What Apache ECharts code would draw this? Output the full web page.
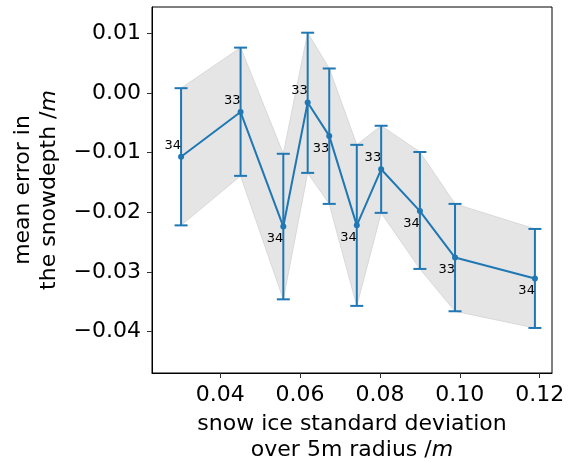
<!DOCTYPE html>
<html>
<head>
<meta charset="utf-8">
<script src="https://cdn.jsdelivr.net/npm/echarts@6/dist/echarts.min.js"></script>
<style>html,body{margin:0;padding:0;background:#fff}#c{width:574px;height:462px}</style>
</head>
<body>
<div id="c"></div>
<script>
// ---- data ----
const stdDev   = [0.0302, 0.0451, 0.0558, 0.0619, 0.0673, 0.0742, 0.0803, 0.0900, 0.0988, 0.1188];
const meanErr  = [-0.0107, -0.0032, -0.0224, -0.0016, -0.0072, -0.0222, -0.0128, -0.0198, -0.0276, -0.0311];
const upperErr = [0.0008, 0.0076, -0.0102, 0.0101, 0.0041, -0.0087, -0.0055, -0.0099, -0.0186, -0.0228];
const lowerErr = [-0.0222, -0.0139, -0.0346, -0.0134, -0.0186, -0.0357, -0.0201, -0.0295, -0.0366, -0.0394];
const counts   = [34, 33, 34, 33, 33, 34, 33, 34, 33, 34];
const xTicks   = [0.04, 0.06, 0.08, 0.10, 0.12];
const yTicks   = [-0.04, -0.03, -0.02, -0.01, 0.00, 0.01];

// label placement (style)
const labelPos = ['top', 'top', 'bottom', 'top', 'bottom', 'bottom', 'top', 'bottom', 'bottom', 'bottom'];

const BLUE = '#1f77b4';
const FONT = 'DejaVu Sans';
const fmt = v => (v < -1e-9 ? '\u2212' : '') + Math.abs(v).toFixed(2);

const chart = echarts.init(document.getElementById('c'), null, {renderer: 'canvas'});
const errData = stdDev.map((x, i) => [x, lowerErr[i], upperErr[i]]);

chart.setOption({
  animation: false,
  backgroundColor: '#fff',
  grid: {left: 152, top: 7, right: 22, bottom: 89, show: true, borderColor: '#000', borderWidth: 1,
         backgroundColor: 'transparent', containLabel: false, outerBoundsMode: 'none'},
  xAxis: {
    type: 'value', min: 0.02292, max: 0.12308,
    axisLine: {show: true, onZero: false, lineStyle: {color: '#000', width: 1}},
    axisTick: {show: true, length: 5, lineStyle: {color: '#333', width: 1}, customValues: xTicks},
    axisLabel: {customValues: xTicks, formatter: fmt, fontSize: 22, fontFamily: FONT, color: '#000', margin: 11},
    splitLine: {show: false},
    name: '{n|snow ice standard deviation}\n{n|over 5m radius /}{i|m}',
    nameLocation: 'middle', nameGap: 37,
    nameTextStyle: {
      fontSize: 22, fontFamily: FONT, color: '#000', lineHeight: 26,
      rich: {n: {fontSize: 22, fontFamily: FONT, color: '#000', lineHeight: 26},
             i: {fontSize: 22, fontFamily: FONT, fontStyle: 'italic', color: '#000', lineHeight: 26}}
    }
  },
  yAxis: {
    type: 'value', min: -0.04695, max: 0.01441,
    axisLine: {show: true, onZero: false, lineStyle: {color: '#000', width: 1}},
    axisTick: {show: true, length: 5, lineStyle: {color: '#333', width: 1}, customValues: yTicks},
    axisLabel: {customValues: yTicks, formatter: fmt, fontSize: 22, fontFamily: FONT, color: '#000', margin: 11},
    splitLine: {show: false},
    name: '{n|mean error in}\n{n|the snowdepth /}{i|m}',
    nameLocation: 'middle', nameGap: 88,
    nameTextStyle: {
      fontSize: 22, fontFamily: FONT, color: '#000', lineHeight: 26,
      rich: {n: {fontSize: 22, fontFamily: FONT, color: '#000', lineHeight: 26},
             i: {fontSize: 22, fontFamily: FONT, fontStyle: 'italic', color: '#000', lineHeight: 26}}
    }
  },
  series: [
    {
      type: 'custom', z: 1, clip: true,
      data: errData,
      encode: {x: 0, y: [1, 2]},
      renderItem: function (params, api) {
        if (params.dataIndex !== 0) return null;
        const pts = [];
        for (let i = 0; i < stdDev.length; i++) pts.push(api.coord([stdDev[i], upperErr[i]]));
        for (let i = stdDev.length - 1; i >= 0; i--) pts.push(api.coord([stdDev[i], lowerErr[i]]));
        return {type: 'polygon', shape: {points: pts},
                style: {fill: '#e5e5e5', stroke: '#d9d9d9', lineWidth: 1}};
      },
      silent: true
    },
    {
      type: 'custom', z: 2,
      data: errData,
      encode: {x: 0, y: [1, 2]},
      renderItem: function (params, api) {
        const lo = api.coord([api.value(0), api.value(1)]);
        const hi = api.coord([api.value(0), api.value(2)]);
        const st = {stroke: BLUE, lineWidth: 2};
        const cw = 6.5;
        return {type: 'group', children: [
          {type: 'line', shape: {x1: lo[0], y1: lo[1], x2: hi[0], y2: hi[1]}, style: st},
          {type: 'line', shape: {x1: lo[0] - cw, y1: lo[1], x2: lo[0] + cw, y2: lo[1]}, style: st},
          {type: 'line', shape: {x1: hi[0] - cw, y1: hi[1], x2: hi[0] + cw, y2: hi[1]}, style: st}
        ]};
      }
    },
    {
      type: 'line', z: 3,
      data: stdDev.map((x, i) => ({
        value: [x, meanErr[i]],
        label: {position: labelPos[i], distance: labelPos[i] === 'top' ? 2 : 3}
      })),
      symbol: 'circle', symbolSize: 6, showSymbol: true,
      itemStyle: {color: BLUE},
      lineStyle: {color: BLUE, width: 2},
      label: {
        show: true, fontSize: 13, fontFamily: FONT, color: '#000', align: 'right',
        formatter: p => String(counts[p.dataIndex])
      }
    }
  ]
});
</script>
</body>
</html>
